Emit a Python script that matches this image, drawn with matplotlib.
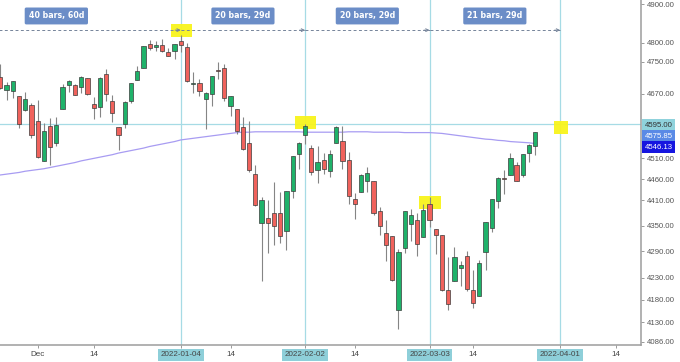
import numpy as np
import pandas as pd
import matplotlib
matplotlib.use("Agg")
import matplotlib.pyplot as plt
from matplotlib.patches import Rectangle
from matplotlib.ticker import FixedLocator, NullLocator
from matplotlib.transforms import blended_transform_factory

# ---------------- data ----------------
dates = ['2021-11-22','2021-11-23','2021-11-24','2021-11-26','2021-11-29','2021-11-30',
         '2021-12-01','2021-12-02','2021-12-03','2021-12-06','2021-12-07','2021-12-08','2021-12-09','2021-12-10',
         '2021-12-13','2021-12-14','2021-12-15','2021-12-16','2021-12-17','2021-12-20','2021-12-21','2021-12-22','2021-12-23',
         '2021-12-27','2021-12-28','2021-12-29','2021-12-30','2021-12-31','2022-01-03','2022-01-04','2022-01-05','2022-01-06','2022-01-07',
         '2022-01-10','2022-01-11','2022-01-12','2022-01-13','2022-01-14','2022-01-18','2022-01-19','2022-01-20','2022-01-21',
         '2022-01-24','2022-01-25','2022-01-26','2022-01-27','2022-01-28','2022-01-31','2022-02-01','2022-02-02','2022-02-03','2022-02-04',
         '2022-02-07','2022-02-08','2022-02-09','2022-02-10','2022-02-11','2022-02-14','2022-02-15','2022-02-16','2022-02-17','2022-02-18',
         '2022-02-22','2022-02-23','2022-02-24','2022-02-25','2022-02-28','2022-03-01','2022-03-02','2022-03-03','2022-03-04',
         '2022-03-07','2022-03-08','2022-03-09','2022-03-10','2022-03-11','2022-03-14','2022-03-15','2022-03-16','2022-03-17','2022-03-18',
         '2022-03-21','2022-03-22','2022-03-23','2022-03-24','2022-03-25','2022-03-28']

opens = [4712.0, 4678.5, 4675.8, 4664.6, 4628.8, 4640.2,
         4602.8, 4504.7, 4589.5, 4548.4, 4632.0, 4690.9, 4691.0, 4687.6,
         4710.3, 4643.0, 4636.5, 4719.1, 4652.5, 4587.9, 4595.0, 4650.4, 4704.0,
         4734.0, 4795.5, 4788.6, 4794.2, 4775.2, 4778.1, 4804.5, 4788.0, 4693.4, 4697.7,
         4655.3, 4669.1, 4728.6, 4733.6, 4638.0, 4632.2, 4588.0, 4547.4, 4471.4,
         4356.3, 4366.6, 4380.6, 4380.6, 4336.2, 4431.8, 4519.6, 4566.4, 4535.4, 4482.8,
         4505.8, 4480.0, 4547.0, 4553.2, 4506.3, 4412.6, 4429.3, 4455.8, 4456.1, 4384.6,
         4332.7, 4324.9, 4155.8, 4298.4, 4354.2, 4363.1, 4322.6, 4401.3, 4342.1,
         4327.0, 4202.7, 4223.1, 4252.6, 4279.5, 4202.8, 4188.8, 4288.1, 4345.1, 4407.3,
         4462.4, 4469.1, 4493.1, 4470.0, 4522.9, 4541.1]

highs = [4743.8, 4699.4, 4702.9, 4664.6, 4672.9, 4646.0,
         4652.9, 4595.5, 4608.0, 4612.6, 4694.0, 4705.1, 4695.3, 4713.6,
         4710.3, 4660.5, 4712.6, 4732.0, 4666.7, 4587.9, 4651.1, 4697.7, 4740.7,
         4791.5, 4807.0, 4804.1, 4808.9, 4786.8, 4796.6, 4818.6, 4797.7, 4725.0, 4708.0,
         4673.0, 4714.1, 4748.8, 4744.1, 4665.1, 4632.2, 4611.6, 4602.1, 4494.5,
         4417.4, 4411.0, 4453.2, 4428.7, 4432.7, 4516.9, 4550.5, 4595.3, 4542.9, 4539.7,
         4521.9, 4531.3, 4590.0, 4588.9, 4526.3, 4426.2, 4472.8, 4489.6, 4456.1, 4394.6,
         4362.1, 4324.9, 4294.7, 4385.3, 4388.8, 4378.5, 4401.5, 4416.8, 4342.1,
         4327.0, 4276.9, 4299.4, 4268.3, 4291.0, 4247.6, 4271.1, 4357.9, 4412.7, 4465.4,
         4481.8, 4522.0, 4501.1, 4520.6, 4546.0, 4575.7]

lows = [4682.2, 4652.7, 4659.9, 4585.4, 4625.3, 4560.0,
        4510.3, 4504.7, 4495.1, 4540.5, 4632.0, 4674.5, 4666.0, 4670.2,
        4667.6, 4606.5, 4611.2, 4651.9, 4600.2, 4531.1, 4583.2, 4645.5, 4704.0,
        4734.0, 4780.0, 4778.1, 4775.3, 4765.8, 4758.2, 4774.3, 4699.4, 4671.3, 4662.7,
        4582.2, 4638.3, 4706.7, 4650.3, 4614.8, 4568.7, 4530.2, 4478.0, 4395.3,
        4222.6, 4287.1, 4304.8, 4309.5, 4292.5, 4414.0, 4483.5, 4544.3, 4470.4, 4451.5,
        4471.5, 4465.4, 4547.0, 4484.3, 4401.4, 4364.8, 4429.3, 4429.7, 4373.8, 4327.2,
        4267.1, 4221.5, 4114.7, 4286.8, 4315.1, 4279.5, 4322.6, 4345.6, 4285.0,
        4199.9, 4157.9, 4223.1, 4209.8, 4200.5, 4161.7, 4187.9, 4246.7, 4335.7, 4390.6,
        4424.3, 4469.1, 4455.8, 4465.2, 4501.1, 4517.7]

closes = [4682.9, 4690.7, 4701.5, 4594.6, 4655.3, 4567.0,
          4513.0, 4577.1, 4538.4, 4591.7, 4686.8, 4701.2, 4667.5, 4712.0,
          4669.0, 4634.1, 4709.9, 4668.7, 4620.6, 4568.0, 4649.2, 4696.6, 4725.8,
          4791.2, 4786.4, 4793.1, 4778.7, 4766.2, 4796.6, 4793.5, 4700.6, 4696.1, 4677.0,
          4670.3, 4713.1, 4726.4, 4659.0, 4662.9, 4577.1, 4532.8, 4482.7, 4397.9,
          4410.1, 4356.5, 4349.9, 4326.5, 4431.9, 4515.6, 4546.5, 4589.4, 4477.4, 4500.5,
          4483.9, 4521.5, 4587.2, 4504.1, 4418.6, 4401.7, 4471.1, 4475.0, 4380.3, 4348.9,
          4304.8, 4225.5, 4288.7, 4384.7, 4373.9, 4306.3, 4386.5, 4363.5, 4328.9,
          4201.1, 4170.7, 4277.9, 4259.5, 4204.3, 4173.1, 4262.5, 4357.9, 4411.7, 4463.1,
          4461.2, 4511.6, 4456.2, 4520.2, 4543.1, 4575.5]

ma_values = [4470, 4472, 4474, 4476, 4479, 4481,
             4483, 4485, 4488, 4491, 4494, 4497, 4500, 4504,
             4507, 4510, 4513, 4516, 4519, 4523, 4526, 4529, 4532,
             4535, 4539, 4542, 4545, 4548, 4551, 4555, 4557, 4559, 4561,
             4563, 4565, 4567, 4569, 4571, 4573, 4574, 4574, 4575,
             4575, 4575, 4575, 4575, 4575, 4575, 4575, 4574, 4574, 4574,
             4574, 4574, 4574, 4574, 4575, 4575, 4575, 4575, 4574, 4574,
             4574, 4574, 4574, 4573, 4573, 4573, 4573, 4573, 4572,
             4571, 4569, 4567, 4565, 4563, 4561, 4559, 4557, 4556, 4554,
             4553, 4551, 4550, 4549, 4548, 4546]

x_tick_dates = ['2021-12-01', '2021-12-14', '2022-01-04', '2022-01-14', '2022-02-02',
                '2022-02-14', '2022-03-03', '2022-03-14', '2022-04-01', '2022-04-14']
x_tick_labels = ['Dec', '14', '2022-01-04', '14', '2022-02-02', '14', '2022-03-03', '14', '2022-04-01', '14']

y_ticks = [4900, 4800, 4750, 4670, 4510, 4460, 4410, 4350, 4290, 4230, 4180, 4130, 4086]

marker_dates = ['2022-01-04', '2022-02-02', '2022-03-03', '2022-04-01']
level_line = 4595.00
last_price = 4575.85
ma_last = 4546.13

segments = [('2021-11-05', '2022-01-04', '40 bars, 60d'),
            ('2022-01-04', '2022-02-02', '20 bars, 29d'),
            ('2022-02-02', '2022-03-03', '20 bars, 29d'),
            ('2022-03-03', '2022-04-01', '21 bars, 29d')]
arrow_level = 4832
label_level = 4869

highlight_dates = ['2022-01-04', '2022-02-02', '2022-03-03', '2022-04-01']
highlight_values = [4832, 4597, 4404, 4585]
highlight_widths = [3.3, 3.3, 3.6, 2.2]

# ---------------- trading calendar (bar index axis) ----------------
cal = pd.bdate_range('2021-11-05', '2022-04-29')
holidays = pd.to_datetime(['2021-11-25', '2021-12-24', '2022-01-17', '2022-02-21', '2022-04-15'])
cal = cal[~cal.isin(holidays)]
pos = {d.strftime('%Y-%m-%d'): i for i, d in enumerate(cal)}
x = np.array([pos[d] for d in dates])

o = np.array(opens); h = np.array(highs); l = np.array(lows); c = np.array(closes)

# ---------------- figure ----------------
W, H = 680, 362
fig = plt.figure(figsize=(W / 100, H / 100), dpi=100)
ax = fig.add_axes([0, 17 / H, 641 / W, 345 / H])
ax.set_yscale('log')
ax.set_ylim(4079.4, 4911)
x0 = pos['2021-12-01']
ax.set_xlim(x0 - 6.06, x0 + 97.0)

line_col = '#a6dbe5'
for d in marker_dates:
    ax.axvline(pos[d], color=line_col, lw=0.9, zorder=1)
ax.axhline(level_line, color=line_col, lw=0.9, zorder=1)

# yellow highlights
r = np.exp(6.5 / 1860)
for d, v, w in zip(highlight_dates, highlight_values, highlight_widths):
    xc = pos[d] + 0.1
    ax.add_patch(Rectangle((xc - w / 2, v / r), w, v * r - v / r, facecolor='#f8f41c',
                           edgecolor='none', alpha=0.95, zorder=1.5))

# moving average
ax.plot(x, ma_values, color='#a89cf2', lw=0.9, zorder=2)

# candles
up = c >= o
green, red = '#1fb26a', '#f0625c'
ax.vlines(x, l, h, color='#858585', lw=0.8, zorder=2.5)
body_lo = np.minimum(o, c)
body_h = np.maximum(np.abs(c - o), 1.2)
ax.bar(x, body_h, bottom=body_lo, width=0.68, color=np.where(up, green, red),
       edgecolor='#3c3c3c', linewidth=0.5, zorder=3)

# measurement arrows and labels
arrow_col = '#75849a'
for s, e, lab in segments:
    xs, xe = pos[s], pos[e]
    ax.plot([xs, xe], [arrow_level, arrow_level], color=arrow_col, lw=0.7,
            ls=(0, (3, 2.5)), zorder=4)
    ax.annotate('', xy=(xe, arrow_level), xytext=(xe - 0.9, arrow_level),
                arrowprops=dict(arrowstyle='->', color=arrow_col, lw=0.7,
                                shrinkA=0, shrinkB=0, mutation_scale=5), zorder=4)
    ax.text((xs + xe) / 2, label_level, lab, ha='center', va='center', color='white',
            fontsize=5.7, fontweight='bold', family='DejaVu Sans', zorder=5,
            bbox=dict(boxstyle='round,pad=0.5,rounding_size=0.2', fc='#6b8dc7', ec='none'))

# axes styling
for sp in ['top', 'left']:
    ax.spines[sp].set_visible(False)
for sp in ['right', 'bottom']:
    ax.spines[sp].set_color('#9d9d9d')
    ax.spines[sp].set_linewidth(1.1)

ax.yaxis.tick_right()
ax.yaxis.set_minor_locator(NullLocator())
ax.yaxis.set_major_locator(FixedLocator(y_ticks))
ax.set_yticklabels([f'{v:.2f}' for v in y_ticks])
ax.tick_params(axis='y', which='major', direction='out', length=2.5, width=0.6,
               colors='#8a8a8a', labelcolor='#555555', labelsize=5.6, pad=1.5)
for t in ax.get_yticklabels():
    t.set_family('Liberation Sans')

ax.set_xticks([pos[d] for d in x_tick_dates])
ax.set_xticklabels(x_tick_labels)
ax.tick_params(axis='x', direction='out', length=2.5, width=0.6, colors='#8a8a8a',
               labelcolor='#444444', labelsize=5.8, pad=2)
for t in ax.get_xticklabels():
    t.set_family('Liberation Sans')
    if t.get_text().startswith('2022'):
        t.set_bbox(dict(boxstyle='square,pad=0.3', fc='#8ecfd9', ec='none'))

# special price labels on the right axis
tr = blended_transform_factory(ax.transAxes, ax.transData)
specials = [(level_line, '#8fd2dc', '#333333', -1.0),
            (last_price, '#5a8ae6', 'white', -3.3),
            (ma_last, '#1616e0', 'white', -2.5)]
for v, bg, fg, dy in specials:
    ax.annotate(f'{v:.2f}', xy=(1, v), xycoords=tr, xytext=(2.6, dy), textcoords='offset points',
                ha='left', va='center', fontsize=5.6, color=fg, family='Liberation Sans',
                annotation_clip=False, zorder=6,
                bbox=dict(boxstyle='square,pad=0.35', fc=bg, ec='none'))

fig.savefig('out.png', dpi=100)
